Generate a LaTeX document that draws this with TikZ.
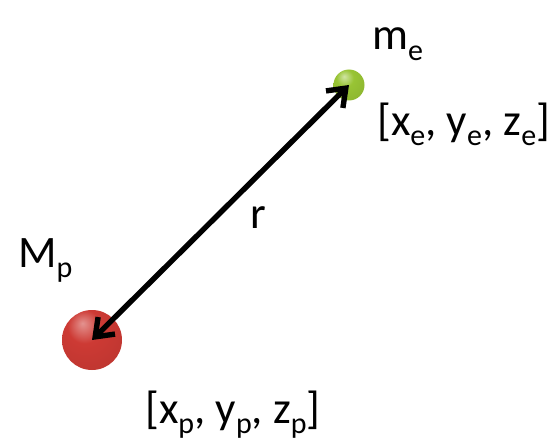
\documentclass[tikz,border=0pt]{standalone}
\usepackage{fontspec}
\setmainfont{Carlito}
\usetikzlibrary{arrows.meta}

\definecolor{redbody}{RGB}{205,58,52}
\definecolor{greenbody}{RGB}{152,196,52}
\pgfdeclareradialshading{redsphere}{\pgfpoint{-8bp}{14bp}}{%
  color(0bp)=(redbody!55!white); color(14bp)=(redbody); color(38bp)=(redbody!92!black);
  color(55bp)=(redbody!65!black); color(70bp)=(redbody!55!black)}
\pgfdeclareradialshading{greensphere}{\pgfpoint{-8bp}{14bp}}{%
  color(0bp)=(greenbody!45!white); color(14bp)=(greenbody); color(38bp)=(greenbody!92!black);
  color(55bp)=(greenbody!70!black); color(70bp)=(greenbody!60!black)}
\newcommand{\lowidx}[1]{\raisebox{-0.24em}{\fontsize{30}{32}\selectfont #1}}

\begin{document}
\begin{tikzpicture}[
x=1pt, y=1pt,
    planet/.style={circle, minimum size=60pt, inner sep=0pt, shading=redsphere},
    moon/.style={circle, minimum size=31pt, inner sep=0pt, shading=greensphere},
    label/.style={font=\fontsize{45}{47}\selectfont, inner sep=0pt, anchor=base west},
    link/.style={draw, line width=5.4pt, {Straight Barb[length=16pt, width=24pt]}-{Straight Barb[length=16pt, width=24pt]}}
]
    \useasboundingbox (0,0) rectangle (554,440);

    % --- bodies ---
    \node[planet] (mp) at (92, 100) {};
    \node[moon] (me) at (349, 355) {};

    % --- labels ---
    \node[label] (mplab) at (18, 173) {M\lowidx{p}};
    \node[label] (melab) at (372, 390) {m\lowidx{e}};
    \node[label] (rlab) at (250, 212) {r};
    \node[label] (xelab) at (377, 305) {[x\lowidx{e}, y\lowidx{e}, z\lowidx{e}]};
    \node[label] (xplab) at (145, 17) {[x\lowidx{p}, y\lowidx{p}, z\lowidx{p}]};

    % --- separation ---
    \draw[link] (mp.center) -- (me.center);

\end{tikzpicture}
\end{document}
